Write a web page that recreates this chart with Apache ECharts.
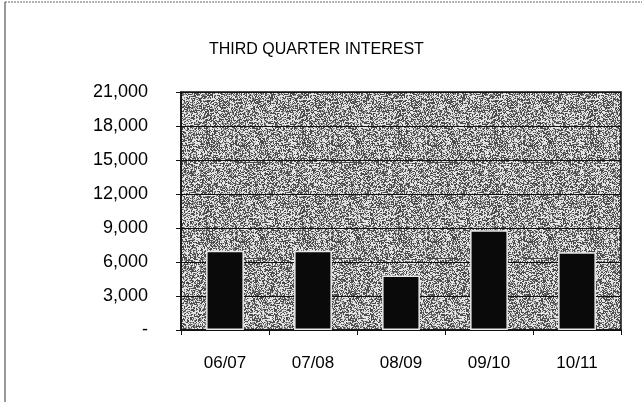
<!DOCTYPE html>
<html><head><meta charset="utf-8">
<script src="https://cdn.jsdelivr.net/npm/echarts@6/dist/echarts.min.js"></script>
<style>html,body{margin:0;padding:0;background:#fff}#c{width:642px;height:402px}</style>
</head><body><div id="c"></div>
<script>
var categories = ['06/07', '07/08', '08/09', '09/10', '10/11'];
var interest = [7000, 7000, 4800, 8800, 6850];
var yTicks = [0, 3000, 6000, 9000, 12000, 15000, 18000, 21000];

// deterministic speckle texture for the plot background (style only)
function makeTexture() {
  var n = 96, cv = document.createElement('canvas');
  cv.width = n; cv.height = n;
  var ctx = cv.getContext('2d');
  var img = ctx.createImageData(n, n);
  var s = 12345;
  for (var i = 0; i < n * n; i++) {
    s = (s * 1103515245 + 12345) & 0x7fffffff;
    var r = (s >> 8) & 255;
    var v = r < 100 ? 75 : (r < 145 ? 145 : 228);
    img.data[i * 4] = v; img.data[i * 4 + 1] = v; img.data[i * 4 + 2] = v; img.data[i * 4 + 3] = 255;
  }
  ctx.putImageData(img, 0, 0);
  return cv;
}
var tex = makeTexture();

var chart = echarts.init(document.getElementById('c'), null, {renderer: 'canvas'});
chart.setOption({
  animation: false,
  backgroundColor: '#fff',
  title: {
    text: 'THIRD QUARTER INTEREST',
    left: 204, top: 37,
    textStyle: {fontFamily: 'Arial, Liberation Sans', fontSize: 16, fontWeight: 'normal', color: '#000'}
  },
  graphic: [
    {type: 'line', shape: {x1: 5, y1: 2, x2: 642, y2: 2}, style: {stroke: '#666', lineWidth: 1, lineDash: [2, 1]}},
    {type: 'line', shape: {x1: 5, y1: 2, x2: 5, y2: 402}, style: {stroke: '#555', lineWidth: 1.2}}
  ],
  grid: {
    left: 181, right: 21, top: 92, bottom: 72,
    show: true, backgroundColor: {image: tex, repeat: 'repeat'}, borderColor: '#111', borderWidth: 1.5
  },
  xAxis: {
    type: 'category', data: categories,
    axisLine: {lineStyle: {color: '#111', width: 1.5}},
    axisTick: {show: true, length: 5, lineStyle: {color: '#111'}},
    axisLabel: {margin: 25, fontFamily: 'Arial, Liberation Sans', fontSize: 17, color: '#000'}
  },
  yAxis: {
    type: 'value', min: yTicks[0], max: yTicks[yTicks.length - 1], interval: 3000,
    axisLine: {show: true, lineStyle: {color: '#111', width: 1.5}},
    axisTick: {show: true, length: 5, lineStyle: {color: '#111'}},
    splitLine: {show: true, lineStyle: {color: '#111', width: 1.2}},
    axisLabel: {
      margin: 33, fontFamily: 'Arial, Liberation Sans', fontSize: 18, color: '#000',
      formatter: function (v) { return v === 0 ? '-' : v.toLocaleString('en-US'); }
    }
  },
  series: [{
    type: 'bar', data: interest, barWidth: '43%',
    itemStyle: {color: '#0a0a0a', borderColor: '#e8e8e8', borderWidth: 1.5}
  }]
});
</script></body></html>
